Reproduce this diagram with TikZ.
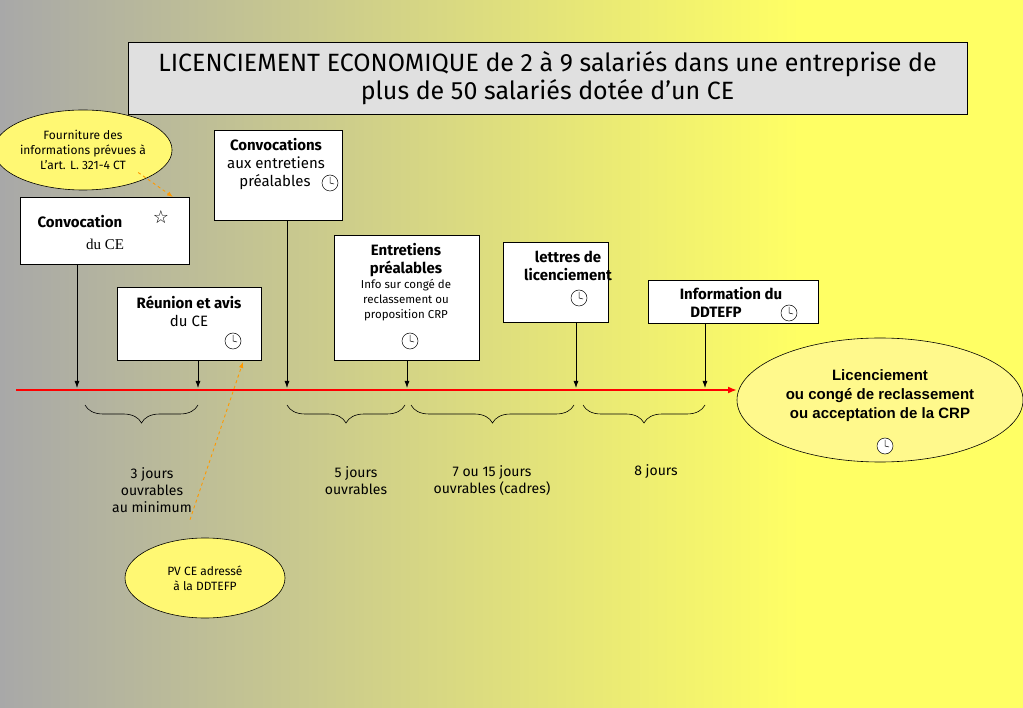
\documentclass[tikz,border=0pt]{standalone}
\usepackage{fontspec}
\setmainfont{Fira Sans}
\newfontfamily\arialfont{Liberation Sans}
\newfontfamily\serifont{Liberation Serif}
\newfontfamily\symfont{DejaVu Sans}
\usetikzlibrary{shapes.geometric}
\usetikzlibrary{arrows.meta}
\usetikzlibrary{decorations.pathreplacing}

\definecolor{bggray}{RGB}{168,168,168}
\definecolor{bgyellow}{RGB}{255,255,100}

\tikzset{
    stepbox/.style = {draw, fill = white, line width = 0.8pt, align = center},
    bubble/.style = {ellipse, draw, fill = yellow!55, line width = 0.6pt, align = center},
    tick/.style = {-{Latex[length=7pt,width=5pt]}, line width = 0.8pt},
    hint/.style = {-{Latex[length=6pt]}, dashed, draw = orange!80!yellow, line width = 0.9pt},
    curly/.style = {decorate, decoration = {brace, mirror, amplitude = 18pt}, line width = 0.6pt},
    clock/.pic = {
        \draw[line width = 0.5pt, fill = white] (0, 0) circle(8);
        \draw[line width = 0.5pt] (0, 0) -- (0, -6) (0, 0) -- (4, 1);
    }
}

\begin{document}
\begin{tikzpicture}[x=1pt, y=-1pt]
        % fond
        \shade[left color = bggray, right color = bgyellow] (0, 0) rectangle (800, 708);
        \fill[bgyellow] (800, 0) rectangle (1023, 708);
        \useasboundingbox (0, 0) rectangle (1023, 708);

        % titre
        \node[stepbox, fill = black!12, minimum width = 839, minimum height = 72, font = \fontsize{25}{28}\selectfont]
            (title) at (547.5, 78) {LICENCIEMENT ECONOMIQUE de 2 à 9 salariés dans une entreprise de\\plus de 50 salariés dotée d'un CE};

        % boites
        \node[stepbox, minimum width = 169, minimum height = 67] (convce) at (104.5, 230.5) {};
        \node[font = \bfseries\fontsize{15}{17}\selectfont] at (80, 222) {Convocation};
        \node[font = \symfont\fontsize{18}{18}\selectfont] at (161, 217) {☆};
        \node[font = \serifont\fontsize{15}{17}\selectfont] at (105, 244) {du CE};

        \node[stepbox, minimum width = 144, minimum height = 73] (reunion) at (189, 323.5) {};
        \node[align = center, font = \fontsize{15}{18}\selectfont] at (189, 311) {\textbf{Réunion et avis}\\du CE};
        \pic at (233, 341) {clock};

        \node[stepbox, minimum width = 128, minimum height = 90] (convent) at (278, 175) {};
        \node[align = center, font = \fontsize{15}{18}\selectfont] at (276, 164) {\textbf{Convocations}\\aux entretiens\\\hspace*{12pt}préalables\hspace*{14pt}};
        \pic at (330, 183) {clock};

        \node[stepbox, minimum width = 145, minimum height = 125] (entret) at (406.5, 297.5) {};
        \node[align = center, font = \fontsize{15}{18}\selectfont] at (406, 260) {\textbf{Entretiens}\\\textbf{préalables}};
        \node[align = center, font = \fontsize{11.5}{15}\selectfont] at (406, 300) {Info sur congé de\\reclassement ou\\proposition CRP};
        \pic at (410, 341) {clock};

        \node[stepbox, minimum width = 105, minimum height = 80] (lettres) at (555.5, 282) {};
        \node[align = center, font = \bfseries\fontsize{15}{18}\selectfont] at (568, 266) {lettres de\\licenciement};
        \pic at (579, 298) {clock};

        \node[stepbox, minimum width = 170, minimum height = 43] (info) at (733, 301.5) {};
        \node[align = center, font = \bfseries\fontsize{15}{18}\selectfont] at (731, 302) {Information du\\DDTEFP\hspace*{30pt}};
        \pic at (789, 313) {clock};

        % ligne du temps
        \coordinate (start) at (16, 390);
        \coordinate (stop) at (737, 390);
        \draw[-{Latex[length=9pt,width=7pt]}, draw = red, line width = 1.8pt] (start) -- (stop);
        \foreach \b/\x in {convce/77, reunion/198, convent/287, entret/407, lettres/576, info/705}
            \draw[tick] (\b.south -| \x, 0) -- (\x, 388);

        % fin
        \node[bubble, fill = yellow!45, minimum width = 286, minimum height = 124] (fin) at (880, 400) {};
        \node[align = center, font = \arialfont\bfseries\fontsize{15}{19}\selectfont] at (880, 396) {Licenciement\\ou congé de reclassement\\ou acceptation de la CRP};
        \pic at (885, 446) {clock};

        % accolades
        \draw[curly] (85, 405) -- (198, 405);
        \draw[curly] (287, 405) -- (405, 405);
        \draw[curly] (411, 405) -- (574, 405);
        \draw[curly] (583, 405) -- (705, 405);
        \node[align = center, font = \fontsize{14}{17}\selectfont] at (152, 490) {3 jours\\ouvrables\\au minimum};
        \node[align = center, font = \fontsize{14}{17}\selectfont] at (356, 481) {5 jours\\ouvrables};
        \node[align = center, font = \fontsize{14}{17}\selectfont] at (492, 481) {7 ou 15 jours\\ouvrables (cadres)};
        \node[font = \fontsize{14}{17}\selectfont] at (656, 472) {8 jours};

        % bulles
        \node[bubble, minimum width = 160, minimum height = 80, inner sep = 0pt, font = \fontsize{12}{15}\selectfont]
            (fourn) at (83, 150) {Fourniture des\\informations prévues à\\L'art. L. 321-4 CT};
        \node[bubble, minimum width = 160, minimum height = 80, font = \fontsize{12}{15}\selectfont]
            (pv) at (205, 578) {PV CE adressé\\à la DDTEFP};
        \draw[hint] (fourn.south east) ++(-8, -6) -- (173, 197);
        \draw[hint] (pv.north) ++(-15, -18) -- (243, 362);
    \end{tikzpicture}
\end{document}
